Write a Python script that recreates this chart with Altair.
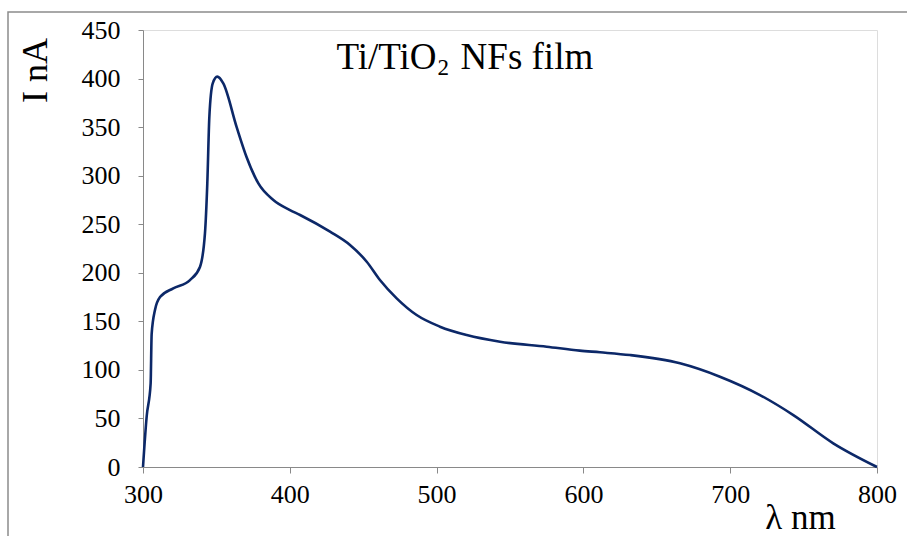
import altair as alt
import pandas as pd

wavelength = [300, 302.5, 305.2, 305.9, 308.2, 311.6, 320.6, 332, 338.8, 342.2, 343.8, 345.2,
              347.5, 350.6, 354.7, 363.8, 370.6, 378.6, 388.8, 400.1, 407, 427.4, 441, 452.4,
              461.4, 472.8, 486.4, 502.3, 520.5, 543.2, 575, 597.5, 611.3, 631.7, 665.8, 693,
              720.3, 743, 770.2, 800]
current = [0, 52, 86, 137, 162, 175, 184, 192.5, 206, 240.6, 292, 360.7,
           395, 402, 395, 350, 319, 292, 275, 264.6, 259.5, 242.3, 228.6, 211.4,
           192.6, 173.7, 156.5, 144.5, 135.9, 129, 123.9, 119.8, 118.1, 115.3, 106.8, 93,
           74.1, 53.5, 24.4, 0]

x_ticks = [300, 400, 500, 600, 700, 800]
y_ticks = [0, 50, 100, 150, 200, 250, 300, 350, 400, 450]

df = pd.DataFrame({"wl": wavelength, "I": current})

FONT = "Liberation Serif"
AX = "#898989"

x_enc = alt.X("wl:Q", scale=alt.Scale(domain=[300, 800], nice=False, zero=False),
              axis=alt.Axis(values=x_ticks, title="λ nm", grid=False, domainColor=AX,
                            tickColor=AX, tickSize=6, labelFontSize=26, labelFont=FONT,
                            labelColor="black", labelPadding=8, labelFlush=False,
                            labelOverlap=False, titleFont=FONT,
                            titleFontSize=35, titleFontWeight="normal", titleColor="black",
                            titleX=657, titleY=61, titleAlign="center",
                            titleBaseline="alphabetic"))
y_enc = alt.Y("I:Q", scale=alt.Scale(domain=[0, 450], nice=False),
              axis=alt.Axis(values=y_ticks, title="I nA", grid=False, domainColor=AX,
                            tickColor=AX, tickSize=5, labelFontSize=26, labelFont=FONT,
                            labelColor="black", labelPadding=18, labelFlush=False,
                            labelOverlap=False, titleFont=FONT,
                            titleFontSize=36, titleFontWeight="normal", titleColor="black",
                            titleX=-108, titleY=40, titleAlign="center",
                            titleBaseline="middle", titleAngle=-90))

line = alt.Chart(df).mark_line(color="#0c2868", strokeWidth=2.6,
                               interpolate="monotone").encode(x=x_enc, y=y_enc)

ann = pd.DataFrame({"wl": [500], "I": [410]})
t1 = alt.Chart(ann).mark_text(text="Ti/TiO", font=FONT, fontSize=37, align="right",
                              baseline="alphabetic", color="black").encode(x="wl:Q", y="I:Q")
t2 = alt.Chart(ann).mark_text(text="2", font=FONT, fontSize=23, align="left", dx=1, dy=6,
                              baseline="alphabetic", color="black").encode(x="wl:Q", y="I:Q")
t3 = alt.Chart(ann).mark_text(text="NFs film", font=FONT, fontSize=37, align="left", dx=24,
                              baseline="alphabetic", color="black").encode(x="wl:Q", y="I:Q")

frame = alt.Chart(ann).mark_rect(fill="transparent", stroke="#8c8c8c", strokeWidth=1.5).encode(
    x=alt.value(-135), x2=alt.value(820), y=alt.value(-18), y2=alt.value(560))

chart = alt.layer(frame, line, t1, t2, t3).properties(
    width=734, height=437,
    autosize=alt.AutoSizeParams(type="none"),
    padding={"left": 143, "top": 30, "right": 30, "bottom": 69},
).configure_view(stroke=None).configure(background="white")

chart.save("out.html", embed_options={"renderer": "svg", "actions": False})
